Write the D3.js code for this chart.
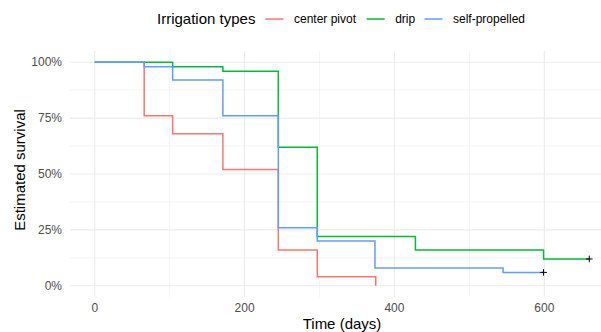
<!DOCTYPE html>
<html>
<head>
<meta charset="utf-8">
<script src="https://cdn.jsdelivr.net/npm/d3@7"></script>
<style>
  body { margin: 0; background: #fff; }
  svg { display: block; font-family: "Liberation Sans", Arial, sans-serif; }
</style>
</head>
<body>
<script>
const width = 601;
const height = 332;

// Kaplan-Meier step data
const groups = ['center pivot', 'drip', 'self-propelled'];
const colors = ['#F8766D', '#00BA38', '#619CFF'];

const pivotTimes = [0, 66, 104, 171, 245, 297, 375];
const pivotSurv  = [1, 0.76, 0.68, 0.52, 0.16, 0.04, 0];

const dripTimes = [0, 104, 171, 245, 297, 428, 599, 660];
const dripSurv  = [1, 0.98, 0.96, 0.62, 0.22, 0.16, 0.12, 0.12];

const selfTimes = [0, 66, 104, 171, 245, 297, 374, 545, 599];
const selfSurv  = [1, 0.98, 0.92, 0.76, 0.26, 0.20, 0.08, 0.06, 0.06];

// censored points (time, survival)
const censorTimes = [660, 599];
const censorSurv  = [0.12, 0.06];

const xTicks = [0, 200, 400, 600];
const xMinor = [100, 300, 500];
const yTicks = [0, 0.25, 0.5, 0.75, 1];
const yMinor = [0.125, 0.375, 0.625, 0.875];

const series = [
  {name: groups[0], t: pivotTimes, s: pivotSurv},
  {name: groups[1], t: dripTimes, s: dripSurv},
  {name: groups[2], t: selfTimes, s: selfSurv}
];

const panel = {left: 70, right: 614, top: 51, bottom: 297};

const x = d3.scaleLinear().domain([-33, 693]).range([panel.left, panel.right]);
const y = d3.scaleLinear().domain([-0.05, 1.05]).range([panel.bottom, panel.top]);
const color = d3.scaleOrdinal().domain(groups).range(colors);

const svg = d3.select('body').append('svg')
  .attr('width', width)
  .attr('height', height);

// grid
const grid = svg.append('g');
grid.selectAll('line.ymin').data(yMinor).enter().append('line')
  .attr('x1', panel.left).attr('x2', panel.right)
  .attr('y1', d => y(d)).attr('y2', d => y(d))
  .attr('stroke', '#ebebeb').attr('stroke-width', 0.55);
grid.selectAll('line.xmin').data(xMinor).enter().append('line')
  .attr('y1', panel.top).attr('y2', panel.bottom)
  .attr('x1', d => x(d)).attr('x2', d => x(d))
  .attr('stroke', '#ebebeb').attr('stroke-width', 0.55);
grid.selectAll('line.ymaj').data(yTicks).enter().append('line')
  .attr('x1', panel.left).attr('x2', panel.right)
  .attr('y1', d => y(d)).attr('y2', d => y(d))
  .attr('stroke', '#ebebeb').attr('stroke-width', 1.1);
grid.selectAll('line.xmaj').data(xTicks).enter().append('line')
  .attr('y1', panel.top).attr('y2', panel.bottom)
  .attr('x1', d => x(d)).attr('x2', d => x(d))
  .attr('stroke', '#ebebeb').attr('stroke-width', 1.1);

// step lines
const line = d3.line()
  .x(d => x(d[0]))
  .y(d => y(d[1]))
  .curve(d3.curveStepAfter);

svg.append('g').selectAll('path')
  .data(series).enter().append('path')
  .attr('d', d => line(d.t.map((t, i) => [t, d.s[i]])))
  .attr('fill', 'none')
  .attr('stroke', d => color(d.name))
  .attr('stroke-width', 1.5);

// censor marks (+)
const cs = censorTimes.map((t, i) => [t, censorSurv[i]]);
svg.append('g').selectAll('path')
  .data(cs).enter().append('path')
  .attr('d', 'M-3.3,0H3.3M0,-3.3V3.3')
  .attr('transform', d => `translate(${x(d[0])},${y(d[1])})`)
  .attr('fill', 'none')
  .attr('stroke', '#000')
  .attr('stroke-width', 1);

// axes labels
svg.append('g').selectAll('text')
  .data(yTicks).enter().append('text')
  .attr('x', 62).attr('y', d => y(d))
  .attr('dy', '0.35em')
  .attr('text-anchor', 'end')
  .attr('font-size', 12)
  .attr('fill', '#4d4d4d')
  .text(d3.format('.0%'));

svg.append('g').selectAll('text')
  .data(xTicks).enter().append('text')
  .attr('x', d => x(d)).attr('y', 308)
  .attr('dy', '0.35em')
  .attr('text-anchor', 'middle')
  .attr('font-size', 12)
  .attr('fill', '#4d4d4d')
  .text(d => d);

svg.append('text')
  .attr('x', (panel.left + panel.right) / 2).attr('y', 324)
  .attr('dy', '0.35em')
  .attr('text-anchor', 'middle')
  .attr('font-size', 15)
  .text('Time (days)');

svg.append('text')
  .attr('transform', `translate(20,${(panel.top + panel.bottom) / 2 - 4}) rotate(-90)`)
  .attr('dy', '0.35em')
  .attr('text-anchor', 'middle')
  .attr('font-size', 15)
  .text('Estimated survival');

// legend
const legend = svg.append('g');
legend.append('text')
  .attr('x', 157).attr('y', 19)
  .attr('dy', '0.35em')
  .attr('font-size', 15)
  .text('Irrigation types');

const keyX = [265.5, 366.7, 424.5];
const item = legend.selectAll('g.item')
  .data(groups).enter().append('g')
  .attr('transform', (d, i) => `translate(${keyX[i]},19)`);
item.append('line')
  .attr('x1', 0).attr('x2', 18)
  .attr('stroke', d => color(d))
  .attr('stroke-width', 1.5);
item.append('text')
  .attr('x', 28.5)
  .attr('dy', '0.35em')
  .attr('font-size', 12)
  .text(d => d);
</script>
</body>
</html>
